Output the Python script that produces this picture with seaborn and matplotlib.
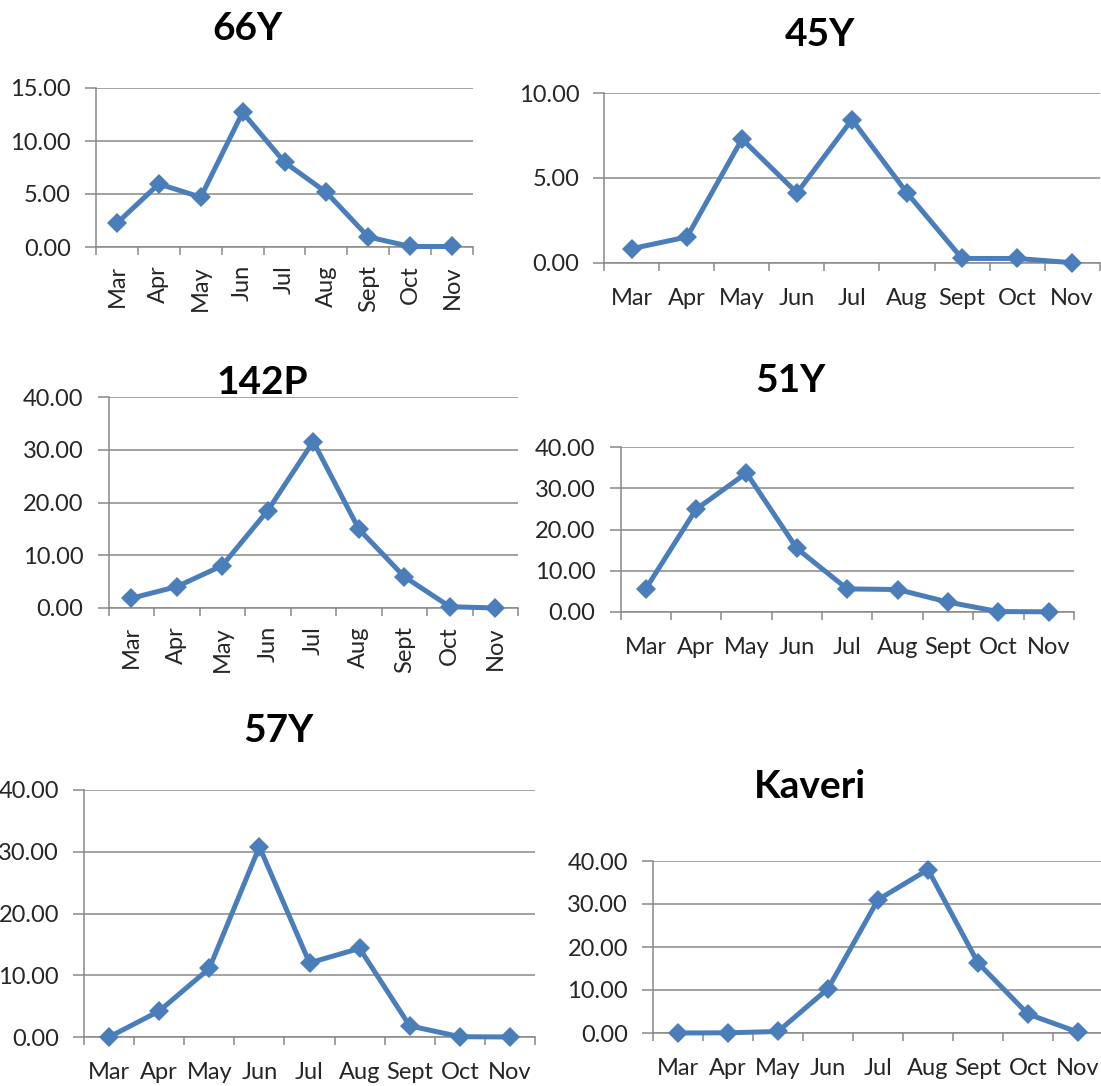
import matplotlib
matplotlib.use("Agg")
import matplotlib.pyplot as plt
import seaborn as sns
import pandas as pd
from matplotlib.ticker import FixedLocator, FormatStrFormatter

# Monthly values per variety
months = ["Mar", "Apr", "May", "Jun", "Jul", "Aug", "Sept", "Oct", "Nov"]
v66Y = [2.25, 5.95, 4.7, 12.7, 8.0, 5.15, 0.95, 0.05, 0.05]
v45Y = [0.83, 1.52, 7.3, 4.12, 8.45, 4.12, 0.25, 0.25, 0.0]
v142P = [1.85, 4.05, 8.05, 18.5, 31.6, 15.0, 5.95, 0.25, 0.0]
v51Y = [5.6, 24.9, 33.7, 15.4, 5.6, 5.45, 2.4, 0.1, 0.05]
v57Y = [0.0, 4.2, 11.1, 30.8, 12.0, 14.35, 1.8, 0.05, 0.0]
vKaveri = [0.0, 0.05, 0.35, 10.3, 31.0, 38.0, 16.3, 4.4, 0.2]

titles = ["66Y", "45Y", "142P", "51Y", "57Y", "Kaveri"]
series = [v66Y, v45Y, v142P, v51Y, v57Y, vKaveri]
y_max = [15, 10, 40, 40, 40, 40]
y_step = [5, 5, 10, 10, 10, 10]
rotated = [True, False, True, False, False, False]

W, H = 1101, 1086
# plot boxes in pixels: left, right, top, bottom; title centre x, y
boxes = [
    (96, 473, 88, 247, 247, 28),
    (604.5, 1099.5, 93.3, 262.7, 820, 34),
    (108.5, 518, 397.3, 608, 262, 383),
    (620.5, 1074, 447, 612, 790, 381),
    (84, 535, 790, 1037, 278, 730),
    (653, 1103, 861, 1033, 810, 787),
]

sns.set_style("white")
plt.rcParams["font.family"] = ["Lato", "DejaVu Sans"]

LINE = "#4A7EBB"
GRID = "#898989"
LABEL_SIZE = 17

fig = plt.figure(figsize=(W / 100, H / 100), dpi=100)

for title, vals, ymax, step, rot, box in zip(titles, series, y_max, y_step, rotated, boxes):
    l, r, t, b, tx, ty = box
    ax = fig.add_axes([l / W, 1 - b / H, (r - l) / W, (b - t) / H])
    df = pd.DataFrame({"month": months, "value": vals})
    sns.pointplot(data=df, x="month", y="value", ax=ax, color=LINE,
                  markers="D", linestyles="-", errorbar=None,
                  markersize=10, markeredgewidth=0, linewidth=3.6)
    ax.set_xlim(-0.5, len(months) - 0.5)
    ax.set_ylim(0, ymax)
    ax.set_xlabel("")
    ax.set_ylabel("")

    # tick marks between categories, labels centred on categories
    ax.xaxis.set_major_locator(FixedLocator([i - 0.5 for i in range(len(months) + 1)]))
    ax.xaxis.set_major_formatter(plt.NullFormatter())
    ax.xaxis.set_minor_locator(FixedLocator(list(range(len(months)))))
    ax.set_xticklabels(months, minor=True)
    ax.tick_params(axis="x", which="major", direction="out", length=6,
                   width=1.1, color=GRID, bottom=True)
    if rot:
        ax.tick_params(axis="x", which="minor", length=0, pad=13,
                       labelsize=LABEL_SIZE, labelrotation=90)
    else:
        ax.tick_params(axis="x", which="minor", length=0, pad=18,
                       labelsize=LABEL_SIZE)

    ax.yaxis.set_major_locator(FixedLocator(list(range(0, ymax + 1, step))))
    ax.yaxis.set_major_formatter(FormatStrFormatter("%.2f"))
    ax.tick_params(axis="y", direction="out", length=8, width=1.1,
                   color=GRID, pad=10, labelsize=LABEL_SIZE, left=True)

    ax.yaxis.grid(True, color=GRID, linewidth=1.1)
    ax.xaxis.grid(False)
    ax.set_axisbelow(True)
    for side in ("top", "right"):
        ax.spines[side].set_visible(False)
    for side in ("left", "bottom"):
        ax.spines[side].set_visible(True)
        ax.spines[side].set_color(GRID)
        ax.spines[side].set_linewidth(1.1)
    for ln in ax.lines:
        ln.set_clip_on(False)
        ln.set_zorder(3)

    fig.text(tx / W, 1 - ty / H, title, ha="center", va="center",
             fontsize=28, fontweight="bold", color="black")

fig.savefig("out.png", dpi=100, facecolor="white")
